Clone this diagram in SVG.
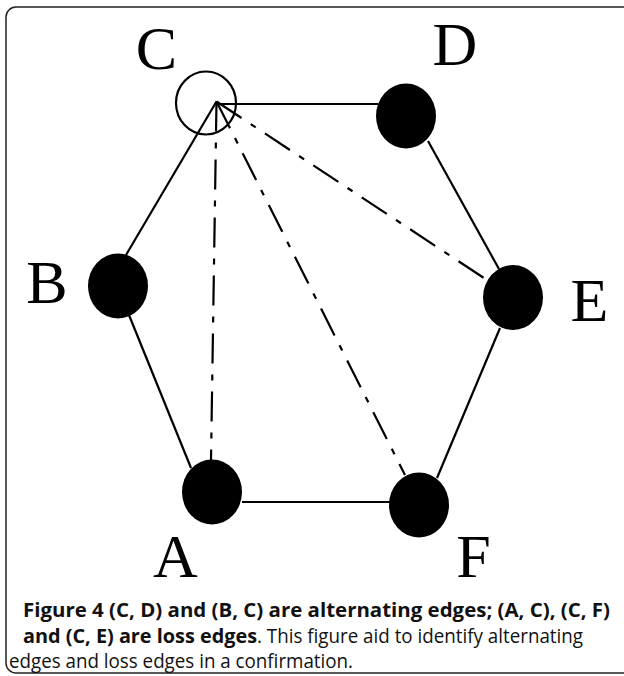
<svg xmlns="http://www.w3.org/2000/svg" width="624" height="676" viewBox="0 0 624 676">
<style>
.edge{stroke:#000;stroke-width:2.2;fill:none}
.loss{stroke-dasharray:30 11 6 11}
.node{fill:#000}
.open{fill:none;stroke:#000;stroke-width:2.2}
.lbl{font-family:"Liberation Serif","Times New Roman",serif;font-size:62px;text-anchor:middle;fill:#000}
.cap{font-family:"Open Sans","Noto Sans",sans-serif;font-size:20px;fill:#111}
.b{font-weight:bold}
</style>
<rect x="6" y="7" width="640" height="666" rx="10" fill="none" stroke="#222" stroke-width="1.5"/>
<g id="connectors">
<path class="edge" d="M214 104 H378"/>
<path class="edge" d="M428 141 L499 269"/>
<path class="edge" d="M500 328 L437 478"/>
<path class="edge" d="M242 502 H390"/>
<path class="edge" d="M129 315 L191 468"/>
<path class="edge" d="M126 255 L216.5 101.5"/>
<path class="edge loss" d="M216.5 101.5 L211 460"/>
<path class="edge loss" d="M216.5 101.5 L405 475"/>
<path class="edge loss" d="M216.5 101.5 L487 280"/>
</g>
<g id="node-C"><ellipse class="open" cx="206" cy="103" rx="30" ry="31.5"/><text class="lbl" x="156.5" y="69">C</text></g>
<g id="node-D"><ellipse class="node" cx="406" cy="116" rx="30" ry="32.5"/><text class="lbl" x="455" y="65">D</text></g>
<g id="node-B"><ellipse class="node" cx="118" cy="286" rx="30" ry="32.5"/><text class="lbl" x="47" y="303">B</text></g>
<g id="node-E"><ellipse class="node" cx="513" cy="297.5" rx="30" ry="32.5"/><text class="lbl" x="589.5" y="321">E</text></g>
<g id="node-A"><ellipse class="node" cx="212" cy="492" rx="30" ry="32.5"/><text class="lbl" x="175.5" y="577">A</text></g>
<g id="node-F"><ellipse class="node" cx="419" cy="505" rx="30" ry="32.5"/><text class="lbl" x="473.5" y="577">F</text></g>
<g id="caption">
<text class="cap b" x="23" y="617" textLength="587" lengthAdjust="spacingAndGlyphs">Figure 4 (C, D) and (B, C) are alternating edges; (A, C), (C, F)</text>
<text class="cap b" x="23" y="643" textLength="234" lengthAdjust="spacingAndGlyphs">and (C, E) are loss edges</text>
<text class="cap" x="257" y="643" textLength="326" lengthAdjust="spacingAndGlyphs">. This figure aid to identify alternating</text>
<text class="cap" x="9" y="668" textLength="344" lengthAdjust="spacingAndGlyphs">edges and loss edges in a confirmation.</text>
</g>
</svg>
